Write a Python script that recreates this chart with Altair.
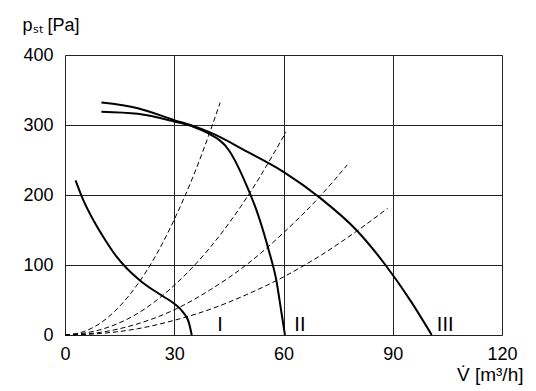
import altair as alt
import pandas as pd

# Fan curves (solid)
curve_I_x = [2.9, 5.0, 8.0, 11.0, 14.0, 17.0, 20.6, 24.0, 27.0, 30.2, 32.5, 34.0, 34.8]
curve_I_y = [221, 193, 162, 136, 113, 95, 78, 65, 55, 44, 32, 18, 0]
curve_II_x = [10, 20, 30, 35, 39, 45, 50, 53, 56, 58, 59.5, 60.4]
curve_II_y = [319, 316, 305, 298, 289, 264, 212, 172, 120, 79, 30, 0]
curve_III_x = [10, 20, 30, 35, 40, 50, 60, 70, 80, 88, 95, 100.7]
curve_III_y = [332, 324, 307, 299, 289, 262, 233, 196, 150, 100, 48, 0]

# System curves (dashed)
d1_x = [0, 5, 10, 15, 20, 25, 30, 35, 40, 42.6]
d1_y = [0, 4.6, 18, 41, 73, 114, 165, 224, 293, 332]
d2_x = [0, 10, 20, 30, 40, 50, 60.7]
d2_y = [0, 8, 31, 71, 126, 197, 290]
d3_x = [0, 10, 20, 30, 40, 50, 60, 70, 77.5]
d3_y = [0, 4, 16, 36, 65, 101, 146, 198, 243]
d4_x = [0, 10, 20, 30, 40, 50, 60, 70, 80, 88.6]
d4_y = [0, 2.3, 9, 21, 37, 58, 83, 113, 148, 181]

label_text = ["I", "II", "III"]
label_x = [42.6, 64.5, 104.4]
label_y = [6, 6, 6]

x_ticks = [0, 30, 60, 90, 120]
y_ticks = [0, 100, 200, 300, 400]

FONT = "Liberation Sans"


def frame(name, xs, ys):
    return pd.DataFrame({"series": name, "x": xs, "y": ys, "order": range(len(xs))})


solid = pd.concat([
    frame("I", curve_I_x, curve_I_y),
    frame("II", curve_II_x, curve_II_y),
    frame("III", curve_III_x, curve_III_y),
])
dashed = pd.concat([
    frame("d1", d1_x, d1_y),
    frame("d2", d2_x, d2_y),
    frame("d3", d3_x, d3_y),
    frame("d4", d4_x, d4_y),
])
labels = pd.DataFrame({"t": label_text, "x": label_x, "y": label_y})

xscale = alt.Scale(domain=[0, 120], nice=False, zero=False)
yscale = alt.Scale(domain=[0, 400], nice=False, zero=False)

xaxis = alt.Axis(
    values=x_ticks, title="V\u0307 [m\u00b3/h]", grid=True, gridColor="#222", gridWidth=1,
    ticks=False, domain=False, labelPadding=10, labelFontSize=18, labelFont=FONT,
    labelFlush=False, labelOverlap=False,
    labelColor="black", titleFont=FONT, titleFontSize=19, titleFontWeight="normal",
    titleAnchor="end", titleAlign="right", titleBaseline="alphabetic",
    titleX=458, titleY=45, titleColor="black",
)
yaxis = alt.Axis(
    values=y_ticks, title="p\u209b\u209c [Pa]", grid=True, gridColor="#222", gridWidth=1,
    ticks=False, domain=False, labelPadding=12, labelFontSize=18, labelFont=FONT,
    labelFlush=False, labelOverlap=False,
    labelColor="black", titleFont=FONT, titleFontSize=18, titleFontWeight="normal",
    titleAngle=0, titleAlign="left", titleBaseline="alphabetic",
    titleX=-43, titleY=-25, titleColor="black",
)

base_x = alt.X("x:Q", scale=xscale, axis=xaxis)
base_y = alt.Y("y:Q", scale=yscale, axis=yaxis)

dash_layer = alt.Chart(dashed).mark_line(
    interpolate="monotone", color="black", strokeWidth=1, strokeDash=[5, 3]
).encode(x=base_x, y=base_y, detail="series:N", order="order:Q")

solid_layer = alt.Chart(solid).mark_line(
    interpolate="monotone", color="black", strokeWidth=2
).encode(x=alt.X("x:Q", scale=xscale), y=alt.Y("y:Q", scale=yscale),
         detail="series:N", order="order:Q")

text_layer = alt.Chart(labels).mark_text(
    font=FONT, fontSize=20, color="black", align="center", baseline="alphabetic"
).encode(x=alt.X("x:Q", scale=xscale), y=alt.Y("y:Q", scale=yscale), text="t:N")

chart = alt.layer(dash_layer, solid_layer, text_layer).properties(
    width=437, height=280,
    autosize=alt.AutoSizeParams(type="none"),
    padding={"left": 57, "top": 47, "right": 24, "bottom": 54},
).configure_view(stroke="black", strokeWidth=2).configure(background="white")

chart.save("out.html", embed_options={"renderer": "svg", "actions": False})
